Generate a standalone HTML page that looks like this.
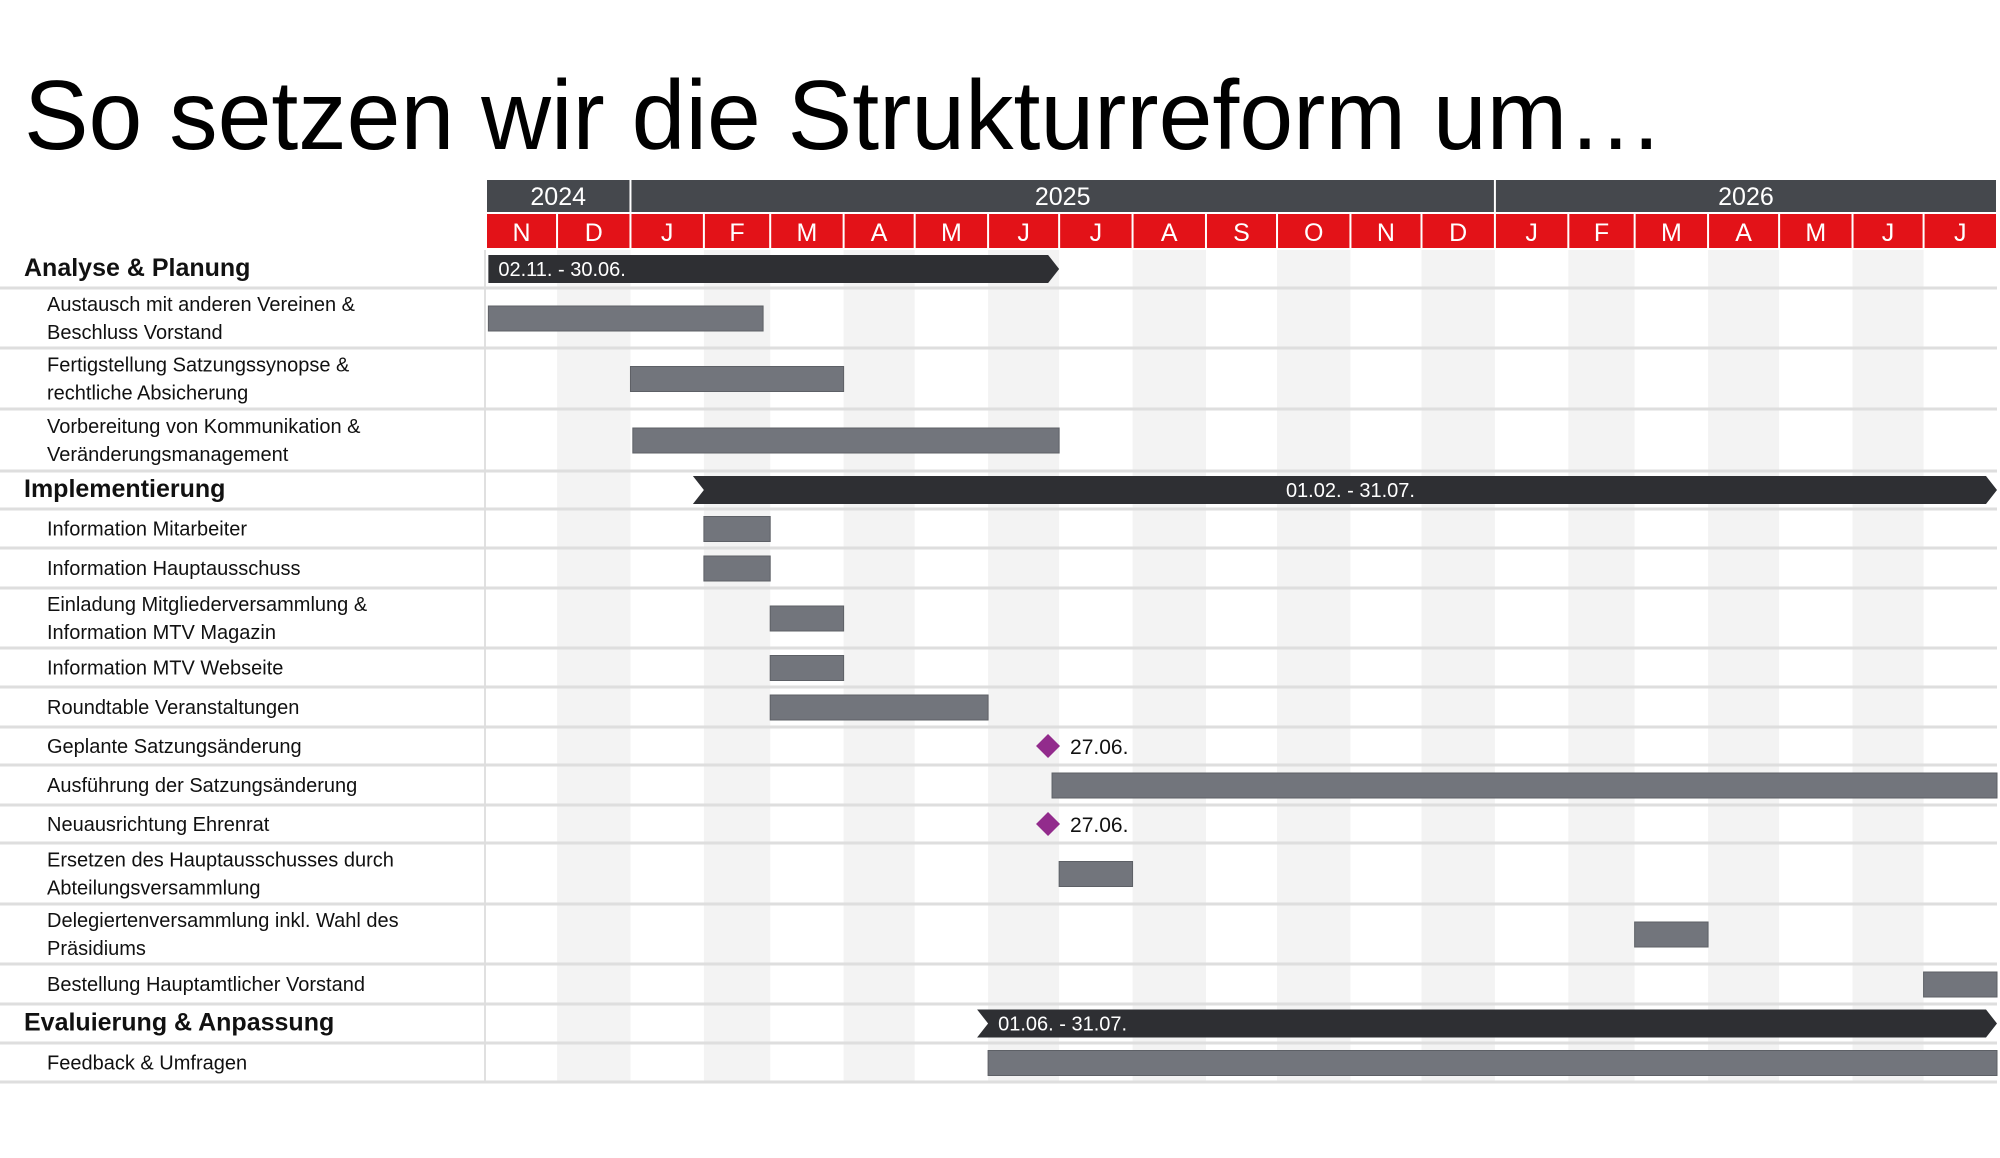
<!DOCTYPE html>
<html><head><meta charset="utf-8"><style>
html,body{margin:0;padding:0;background:#fff;}
svg{display:block;font-family:"Liberation Sans",sans-serif;}
</style></head><body>
<svg id="chart" width="2000" height="1158" viewBox="0 0 2000 1158" xmlns="http://www.w3.org/2000/svg">
<text x="24" y="149" font-size="98" textLength="1640" lengthAdjust="spacingAndGlyphs" fill="#000">So setzen wir die Strukturreform um…</text>
<g id="grid"></g><g id="rows"></g><g id="head"></g><g id="marks"></g>
</svg>
<script>
const monthLabels = ["N","D","J","F","M","A","M","J","J","A","S","O","N","D","J","F","M","A","M","J","J"];
const monthStarts = ["2024-11-01","2024-12-01","2025-01-01","2025-02-01","2025-03-01","2025-04-01","2025-05-01","2025-06-01","2025-07-01","2025-08-01","2025-09-01","2025-10-01","2025-11-01","2025-12-01","2026-01-01","2026-02-01","2026-03-01","2026-04-01","2026-05-01","2026-06-01","2026-07-01"];
const years = ["2024","2025","2026"];
const yearStarts = ["2024-11-01","2025-01-01","2026-01-01"];
const rangeStart = "2024-11-01";
const rangeEnd = "2026-08-01";
const rowLabels = ["Analyse & Planung","Austausch mit anderen Vereinen &|Beschluss Vorstand","Fertigstellung Satzungssynopse &|rechtliche Absicherung","Vorbereitung von Kommunikation &|Veränderungsmanagement","Implementierung","Information Mitarbeiter","Information Hauptausschuss","Einladung Mitgliederversammlung &|Information MTV Magazin","Information MTV Webseite","Roundtable Veranstaltungen","Geplante Satzungsänderung","Ausführung der Satzungsänderung","Neuausrichtung Ehrenrat","Ersetzen des Hauptausschusses durch|Abteilungsversammlung","Delegiertenversammlung inkl. Wahl des|Präsidiums","Bestellung Hauptamtlicher Vorstand","Evaluierung & Anpassung","Feedback & Umfragen"];
const rowTypes = ["summary","task","task","task","summary","task","task","task","task","task","milestone","task","milestone","task","task","task","summary","task"];
const rowStarts = ["2024-11-02","2024-11-02","2025-01-01","2025-01-02","2025-02-01","2025-02-01","2025-02-01","2025-03-01","2025-03-01","2025-03-01","2025-06-27","2025-06-28","2025-06-27","2025-07-01","2026-03-01","2026-07-01","2025-06-01","2025-06-01"];
const rowEnds = ["2025-06-30","2025-02-25","2025-03-31","2025-06-30","2026-07-31","2025-02-28","2025-02-28","2025-03-31","2025-03-31","2025-05-31","2025-06-27","2026-07-31","2025-06-27","2025-07-31","2026-03-31","2026-07-31","2026-07-31","2026-07-31"];
const rowValueLabels = ["02.11. - 30.06.","","","","01.02. - 31.07.","","","","","","27.06.","","27.06.","","","","01.06. - 31.07.",""];
const rowBounds = [250,288,348,409,471,509,548,588,648,687,727,765,805,843,904,964,1004,1043,1082];

const NS="http://www.w3.org/2000/svg";
const X0=486, X1=1997;
const day=s=>Date.parse(s+"T00:00:00Z")/86400000;
const D0=day(rangeStart), D1=day(rangeEnd);
const xS=s=>X0+(day(s)-D0)/(D1-D0)*(X1-X0);
const xE=s=>X0+(day(s)+1-D0)/(D1-D0)*(X1-X0);
function mk(tag,attrs,parent,text){const e=document.createElementNS(NS,tag);for(const k in attrs)e.setAttribute(k,attrs[k]);if(text!==undefined)e.textContent=text;document.getElementById(parent).appendChild(e);return e;}

// stripes
monthStarts.forEach((m,i)=>{
  const a=xS(m), b=i+1<monthStarts.length?xS(monthStarts[i+1]):X1;
  if(i%2===1){
    const r=mk("rect",{x:a,y:250,width:b-a,height:832,fill:"#f3f3f3"},"grid");
    
    
  }
  const c=mk("rect",{x:a+1,y:214,width:b-a-2,height:34,fill:"#e31218"},"head");
  
  
  const t=mk("text",{x:(a+b)/2,y:241,"font-size":25,fill:"#fff","text-anchor":"middle"},"head",monthLabels[i]);
  
  
});
years.forEach((y,i)=>{
  const a=xS(yearStarts[i]), b=i+1<years.length?xS(yearStarts[i+1]):X1;
  const c=mk("rect",{x:a+1,y:180,width:b-a-2,height:32,fill:"#45484d"},"head");
  
  
  const t=mk("text",{x:(a+b)/2,y:205,"font-size":25,fill:"#fff","text-anchor":"middle"},"head",y);
  
  
});
const vl=mk("line",{x1:X0-1,y1:250,x2:X0-1,y2:1082,stroke:"#e0e0e0","stroke-width":2},"rows");



rowLabels.forEach((lab,i)=>{
  const y0=rowBounds[i], y1=rowBounds[i+1], cy=(y0+y1)/2;
  const ln=mk("line",{x1:0,y1:y1,x2:X1,y2:y1,stroke:"#dedede","stroke-width":3},"rows");
  
  
  const type=rowTypes[i];
  const lines=lab.split("|");
  const isS=type==="summary";
  const tx=mk("text",{x:isS?24:47,"font-size":isS?25:20,"font-weight":isS?"bold":"normal",fill:"#111"},"rows");
  
  
  lines.forEach((l,k)=>{const sp=document.createElementNS(NS,"tspan");sp.setAttribute("x",isS?24:47);sp.setAttribute("y",cy+7+(k-(lines.length-1)/2)*28);sp.textContent=l;tx.appendChild(sp);});
  const a=xS(rowStarts[i]), b=xE(rowEnds[i]);
  if(type==="task"){
    const r=mk("rect",{x:a,y:cy-12,width:b-a,height:25,fill:"#72757c",stroke:"#5d6066","stroke-width":1},"marks");
    
    
  } else if(type==="milestone"){
    const mx=xE(rowStarts[i])-4;
    const p=mk("polygon",{points:`${mx},${cy-12} ${mx+12},${cy} ${mx},${cy+12} ${mx-12},${cy}`,fill:"#922b8c"},"marks");
    
    
    const t=mk("text",{x:mx+22,y:cy+8,"font-size":21,fill:"#111"},"marks",rowValueLabels[i]);
    
    
  } else {
    const t0=cy-14,t1=cy+14,n=11;
    const left=i===0?`${a},${t0} `:`${a-n},${t0} `;
    const pts=(i===0?`${a},${t0} ${b-n},${t0} ${b},${cy} ${b-n},${t1} ${a},${t1}`:`${a-n},${t0} ${b-n},${t0} ${b},${cy} ${b-n},${t1} ${a-n},${t1} ${a},${cy}`);
    const p=mk("polygon",{points:pts,fill:"#2e2f33"},"marks");
    
    
    const centered=rowValueLabels[i].startsWith("01.02");
    const t=mk("text",{x:centered?(a+b)/2:a+10,y:cy+7,"font-size":20,fill:"#fff","text-anchor":centered?"middle":"start"},"marks",rowValueLabels[i]);
    
    
  }
});
</script>
</body></html>
